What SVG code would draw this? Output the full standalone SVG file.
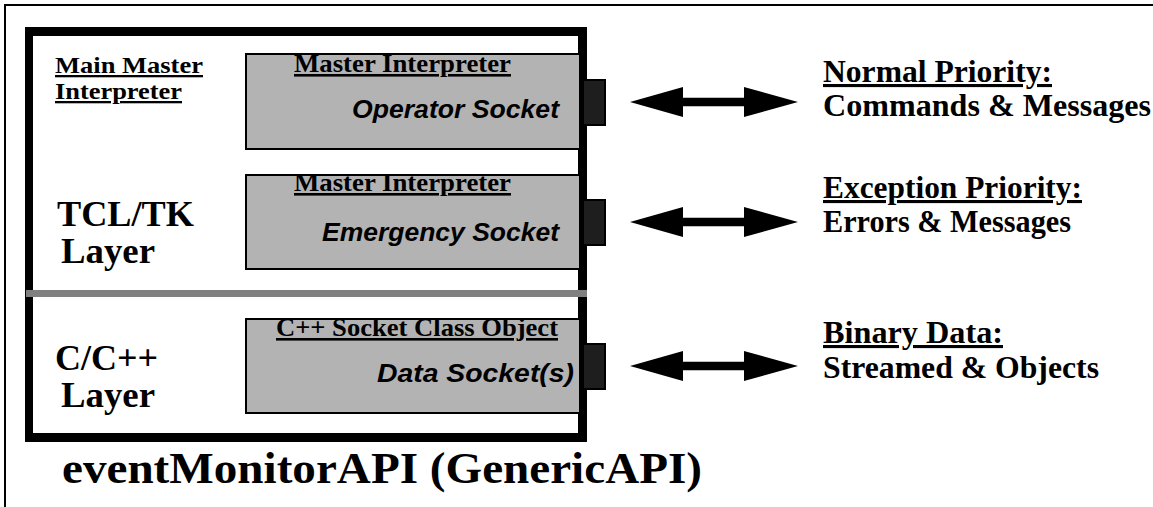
<svg xmlns="http://www.w3.org/2000/svg" width="1153" height="507" viewBox="0 0 1153 507">
  <defs>
    <style>
      .serif { font-family: "Liberation Serif", "Times New Roman", serif; font-weight: bold; fill: #000; }
      .hdr { font-size: 26px; text-decoration: underline; }
      .hdr-sm { font-size: 23px; }
      .lyr { font-size: 36px; }
      .chan { font-size: 31px; }
      .chan-u { text-decoration: underline; }
      .ttl { font-size: 45px; }
      .sock { font-family: "Liberation Sans", Arial, sans-serif; font-weight: bold; font-style: italic; font-size: 26px; fill: #000; }
      .panel { fill: #b3b3b3; stroke: #000; stroke-width: 2; }
      .port { fill: #1e1e1e; stroke: #000; stroke-width: 2; }
      .arrow { fill: #000; }
    </style>
  </defs>

  <rect x="0" y="0" width="1153" height="507" fill="#fff"/>

  <!-- page frame (left and top edges) -->
  <path id="frame" d="M5,507 V5 H1153" fill="none" stroke="#000" stroke-width="2"/>

  <!-- API container with heavy border and layer divider -->
  <g id="api-box">
    <path d="M25,27 H587 V442 H25 Z M33,36 V433 H578 V36 Z" fill="#000" fill-rule="evenodd"/>
    <rect x="26" y="290" width="561" height="7" fill="#808080"/>
    <text class="serif ttl" x="62" y="483" textLength="640" lengthAdjust="spacingAndGlyphs">eventMonitorAPI (GenericAPI)</text>
  </g>

  <!-- layer labels -->
  <g id="main-interp-label">
    <text class="serif hdr hdr-sm" x="55" y="73" textLength="148" lengthAdjust="spacingAndGlyphs">Main Master</text>
    <text class="serif hdr hdr-sm" x="55" y="99" textLength="127" lengthAdjust="spacingAndGlyphs">Interpreter</text>
  </g>
  <g id="tcl-layer-label">
    <text class="serif lyr" x="57" y="226" textLength="137" lengthAdjust="spacingAndGlyphs">TCL/TK</text>
    <text class="serif lyr" x="61" y="263" textLength="94" lengthAdjust="spacingAndGlyphs">Layer</text>
  </g>
  <g id="cpp-layer-label">
    <text class="serif lyr" x="55" y="370" textLength="103" lengthAdjust="spacingAndGlyphs">C/C++</text>
    <text class="serif lyr" x="61" y="407" textLength="94" lengthAdjust="spacingAndGlyphs">Layer</text>
  </g>

  <!-- socket panels with their ports -->
  <g id="operator-socket">
    <rect class="panel" x="246" y="54" width="334" height="95"/>
    <rect class="port" x="583" y="80" width="22" height="45"/>
    <text class="serif hdr" x="294" y="72" textLength="217" lengthAdjust="spacingAndGlyphs">Master Interpreter</text>
    <text class="sock" x="352" y="118" textLength="207" lengthAdjust="spacingAndGlyphs">Operator Socket</text>
  </g>
  <g id="emergency-socket">
    <rect class="panel" x="246" y="175" width="334" height="94"/>
    <rect class="port" x="583" y="200" width="22" height="45"/>
    <text class="serif hdr" x="294" y="191" textLength="217" lengthAdjust="spacingAndGlyphs">Master Interpreter</text>
    <text class="sock" x="322" y="241" textLength="237" lengthAdjust="spacingAndGlyphs">Emergency Socket</text>
  </g>
  <g id="data-socket">
    <rect class="panel" x="246" y="319" width="334" height="94"/>
    <rect class="port" x="583" y="344" width="22" height="45"/>
    <text class="serif hdr" x="276" y="336" textLength="282" lengthAdjust="spacingAndGlyphs">C++ Socket Class Object</text>
    <text class="sock" x="377" y="382" textLength="197" lengthAdjust="spacingAndGlyphs">Data Socket(s)</text>
  </g>

  <!-- message channel descriptions -->
  <g id="normal-channel">
    <text class="serif chan chan-u" x="823" y="82" textLength="229" lengthAdjust="spacingAndGlyphs">Normal Priority:</text>
    <text class="serif chan" x="823" y="116" textLength="328" lengthAdjust="spacingAndGlyphs">Commands &amp; Messages</text>
  </g>
  <g id="exception-channel">
    <text class="serif chan chan-u" x="823" y="198" textLength="259" lengthAdjust="spacingAndGlyphs">Exception Priority:</text>
    <text class="serif chan" x="823" y="232" textLength="248" lengthAdjust="spacingAndGlyphs">Errors &amp; Messages</text>
  </g>
  <g id="binary-channel">
    <text class="serif chan chan-u" x="823" y="343" textLength="180" lengthAdjust="spacingAndGlyphs">Binary Data:</text>
    <text class="serif chan" x="823" y="378" textLength="276" lengthAdjust="spacingAndGlyphs">Streamed &amp; Objects</text>
  </g>

  <!-- bidirectional links between ports and channels -->
  <g id="connectors">
    <polygon class="arrow" points="630,102 683,87 683,97.8 744,97.8 744,87 798,102 744,117 744,106.2 683,106.2 683,117"/>
    <polygon class="arrow" points="630,222 683,207 683,217.8 744,217.8 744,207 798,222 744,237 744,226.2 683,226.2 683,237"/>
    <polygon class="arrow" points="630,366 683,351 683,361.8 744,361.8 744,351 798,366 744,381 744,370.2 683,370.2 683,381"/>
  </g>
</svg>
